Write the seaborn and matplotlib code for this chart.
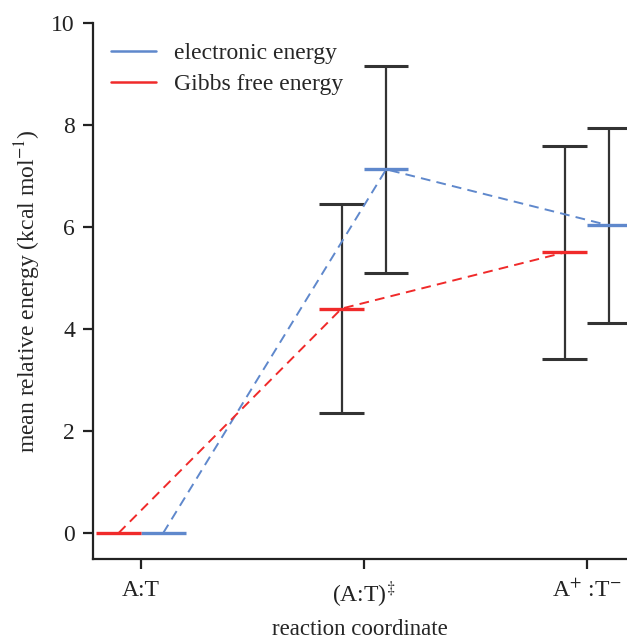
import numpy as np
import pandas as pd
import matplotlib
matplotlib.use("Agg")
import matplotlib.pyplot as plt
from matplotlib.lines import Line2D
import seaborn as sns

# reaction states along the coordinate
states = ["A:T", r"(A:T)$^{\ddagger}$", r"A$^{+}$ :T$^{-}$"]

# mean relative energies (kcal/mol) and their error half-widths
electronic_mean = [0.0, 7.13, 6.03]
electronic_err = [0.0, 2.03, 1.92]
gibbs_mean = [0.0, 4.40, 5.50]
gibbs_err = [0.0, 2.05, 2.08]

series_names = ["electronic energy", "Gibbs free energy"]
colors = {"electronic energy": "#5f88cc", "Gibbs free energy": "#f02a2a"}
offsets = {"electronic energy": 0.1, "Gibbs free energy": -0.1}
half_width = 0.1

sns.set_theme(style="ticks")
plt.rcParams["font.family"] = ["Liberation Serif", "DejaVu Serif"]
plt.rcParams["mathtext.fontset"] = "stix"
plt.rcParams["axes.edgecolor"] = "#222222"
plt.rcParams["axes.linewidth"] = 1.6
plt.rcParams["xtick.color"] = "#222222"
plt.rcParams["ytick.color"] = "#222222"

rows = []
for name, means, errs in [("electronic energy", electronic_mean, electronic_err),
                          ("Gibbs free energy", gibbs_mean, gibbs_err)]:
    for i, (m, e) in enumerate(zip(means, errs)):
        rows.append({"series": name, "pos": i + offsets[name], "energy": m, "err": e})
df = pd.DataFrame(rows)

fig = plt.figure(figsize=(6.27, 6.42), dpi=100)
ax = fig.add_axes([0.1483, 0.1293, 0.8517, 0.8349])

# error bars behind the levels
for name in series_names:
    sub = df[(df["series"] == name) & (df["err"] > 0)]
    ax.errorbar(sub["pos"], sub["energy"], yerr=sub["err"], fmt="none",
                ecolor="#333333", elinewidth=1.6, capsize=0, zorder=2)
    for _, r in sub.iterrows():
        for yy in (r["energy"] - r["err"], r["energy"] + r["err"]):
            ax.hlines(yy, r["pos"] - half_width, r["pos"] + half_width,
                      color="#333333", lw=2.2, zorder=2)

# energy levels
for name in series_names:
    sub = df[df["series"] == name]
    ax.hlines(sub["energy"], sub["pos"] - half_width, sub["pos"] + half_width,
              color=colors[name], lw=2.4, zorder=3)

# dashed connectors between level centres
sns.lineplot(data=df, x="pos", y="energy", hue="series", palette=colors,
             hue_order=series_names, ax=ax, legend=False, lw=1.4,
             dashes=False, zorder=4, sort=False)
for line in ax.get_lines():
    line.set_linestyle((0, (5, 3.2)))

ax.set_xlim(-0.215, 2.18)
ax.set_ylim(-0.51, 10)
ax.set_xticks(range(len(states)))
ax.set_xticklabels(states)
ax.set_yticks([0, 2, 4, 6, 8, 10])
ax.tick_params(axis="both", length=7, width=1.6, labelsize=17, pad=6)
ax.tick_params(axis="x", pad=8)
ax.set_xlabel("reaction coordinate", fontsize=16.5, labelpad=6.5)
ax.set_ylabel(r"mean relative energy (kcal mol$^{-1}$)", fontsize=17, labelpad=6)
sns.despine(ax=ax)

handles = [Line2D([], [], color=colors[n], lw=1.8) for n in series_names]
ax.legend(handles, series_names, loc="upper left", frameon=False, fontsize=17,
          handlelength=1.9, handletextpad=0.75, labelspacing=0.42,
          bbox_to_anchor=(0.008, 0.99), borderaxespad=0.2)

fig.savefig("out.png", dpi=100)
